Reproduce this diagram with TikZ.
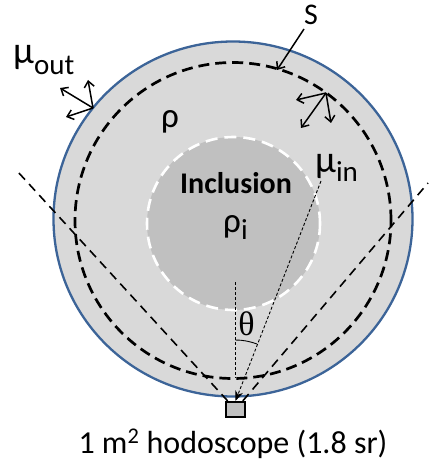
\documentclass[tikz,border=0pt]{standalone}
\usepackage{fontspec}
\setmainfont{Carlito}
\newfontfamily\seriffont{Liberation Serif}
\usetikzlibrary{arrows.meta}
\definecolor{outerfill}{RGB}{217,217,217}
\definecolor{incfill}{RGB}{192,192,192}
\definecolor{rimblue}{RGB}{60,100,152}
\begin{document}
\begin{tikzpicture}[x=1pt,y=-1pt,
  rim/.style={fill=outerfill, draw=rimblue, line width=2.3pt},
  incl/.style={fill=incfill, draw=white, line width=2.6pt, dash pattern=on 12pt off 7pt},
  surf/.style={draw=black, line width=2.7pt, dash pattern=on 11pt off 6pt},
  cone/.style={draw=black, line width=1.6pt, dash pattern=on 9pt off 6pt},
  thinline/.style={draw=black, line width=0.9pt, dash pattern=on 3pt off 2pt},
  vec/.style={draw=black, line width=1.5pt, -{Straight Barb[length=6pt,width=10pt]}},
  lbl/.style={inner sep=0pt, font=\fontsize{30}{34}\selectfont},
  hodo/.style={draw=black, fill=incfill, line width=2.2pt, minimum width=19pt, minimum height=15pt, inner sep=0pt}
]
\useasboundingbox (0,0) rectangle (428,465);
% outer body
\path[rim] (233,219) ellipse [x radius=179.5pt, y radius=177.5pt];
% inclusion
\path[incl] (233.5,223.5) circle [radius=86.5pt];
% surface S
\path[surf] (233,220.5) circle [radius=158pt];
% hodoscope
\node[hodo] (hod) at (235.5,409.5) {};
% cone lines
\coordinate (L) at (18,172);
\coordinate (R) at (428,183);
\draw[cone] (hod) -- (L);
\draw[cone] (hod) -- (R);
% mu_in ray and vertical
\coordinate (rayA) at (321,181);
\coordinate (vtop) at (235.5,282);
\coordinate (vbot) at (235.5,378);
\draw[thinline, -{Stealth[length=10pt,width=8pt]}] (rayA) -- (hod.north);
\draw[thinline] (vtop) -- (vbot);
% theta arc
\coordinate (th1) at (235.5,340);
\coordinate (th2) at (257,344);
\draw[black, line width=0.9pt] (th1) .. controls (243,340) and (250,341.4) .. (th2);
% mu_out arrows
\coordinate (o) at (93,108);
\coordinate (o1) at (60,88);
\coordinate (o2) at (88,80);
\coordinate (o3) at (66,117);
\draw[vec] (o) -- (o1);
\draw[vec] (o) -- (o2);
\draw[vec] (o) -- (o3);
% inner arrows
\coordinate (i) at (326,93);
\coordinate (i1) at (296,100);
\coordinate (i2) at (301,128);
\coordinate (i3) at (331,123);
\draw[vec] (i) -- (i1);
\draw[vec] (i) -- (i2);
\draw[vec] (i) -- (i3);
% S label
\node[lbl, anchor=base] (S) at (311,25) {S};
\coordinate (Sa) at (304,29);
\coordinate (Sb) at (277,70);
\draw[vec] (Sa) -- (Sb);
% labels
\node[lbl, anchor=base west] (muout) at (13,64) {{\fontsize{38}{40}\selectfont μ}\raisebox{-11pt}{\fontsize{29}{32}\selectfont out}};
\node[lbl, anchor=base west] (muin) at (315,172) {{\fontsize{38}{40}\selectfont μ}\raisebox{-9pt}{\fontsize{29}{32}\selectfont in}};
\node[lbl, anchor=base] (rho) at (170,128) {\fontsize{35}{38}\selectfont ρ};
\node[lbl, anchor=base west] (rhoi) at (223,232) {{\fontsize{35}{38}\selectfont ρ}\raisebox{-7pt}{\fontsize{29}{32}\selectfont i}};
\node[lbl, anchor=base, font=\fontsize{30}{34}\selectfont\bfseries] (inc) at (236,193) {Inclusion};
\node[lbl, anchor=base, font=\fontsize{34}{36}\selectfont\seriffont] (theta) at (246.5,335) {θ};
\node[lbl, anchor=base, font=\fontsize{32}{34}\selectfont] (cap) at (233,453) {1 m\textsuperscript{2} hodoscope (1.8 sr)};
\end{tikzpicture}
\end{document}
